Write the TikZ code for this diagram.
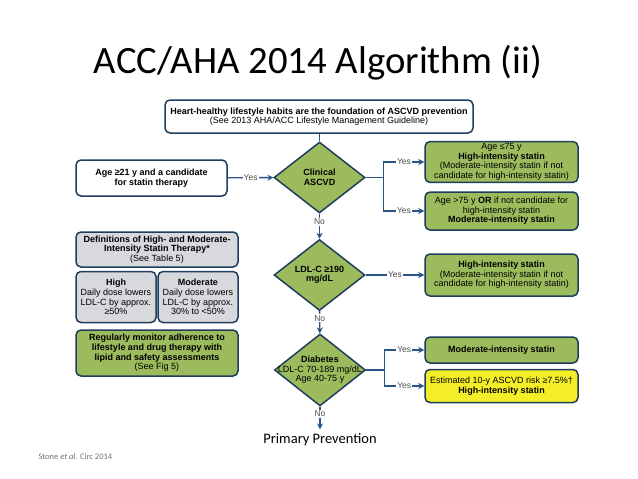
\documentclass[tikz,border=0pt]{standalone}
\usepackage{fontspec}
\setmainfont{Liberation Sans}
\newfontfamily\slidefont{Carlito}
\usetikzlibrary{shapes.geometric, arrows.meta, positioning}
\definecolor{navy}{RGB}{31,61,92}
\definecolor{flowblue}{RGB}{42,84,135}
\definecolor{leafgreen}{RGB}{155,187,92}
\definecolor{boxgray}{RGB}{216,217,221}
\definecolor{warnyellow}{RGB}{243,238,40}
\tikzstyle{basebox} = [rectangle, rounded corners=5pt, draw=navy, line width=1.5pt, align=center, font=\fontsize{9}{9.6}\selectfont, inner sep=2pt]
\tikzstyle{whitebox} = [basebox, fill=white]
\tikzstyle{statin} = [basebox, fill=leafgreen, minimum width=153]
\tikzstyle{riskbox} = [basebox, fill=warnyellow, minimum width=153]
\tikzstyle{defbox} = [basebox, fill=boxgray]
\tikzstyle{decision} = [diamond, aspect=1.28, draw=navy, line width=1.5pt, fill=leafgreen, align=center, font=\fontsize{9}{9.6}\selectfont, inner xsep=-12pt, inner ysep=-6pt, minimum width=91, minimum height=71]
\tikzstyle{arrow} = [draw=flowblue, line width=1.4pt, -{Stealth[length=6pt,width=6pt]}]
\tikzstyle{connector} = [draw=flowblue, line width=1.4pt]
\tikzstyle{flowlabel} = [fill=white, inner sep=1pt, font=\fontsize{8.5}{9}\selectfont, text=black!70]

\begin{document}
\begin{tikzpicture}[x=1pt, y=-1pt]
\useasboundingbox (0,0) rectangle (638,479);

% --- Slide text ---
\node (title) [anchor=base] at (318,73) {\slidefont\fontsize{38.7}{42}\selectfont ACC/AHA 2014 Algorithm (ii)};
\node (primary) [anchor=base] at (320,443) {\slidefont\fontsize{14.5}{16}\selectfont Primary Prevention};
\node (source) [anchor=base west, text=black!55] at (35,459) {\slidefont\fontsize{8.5}{10}\selectfont Stone \textit{et al.} Circ 2014};

% --- Lifestyle and entry ---
\node (lifestyle) [whitebox, minimum width=308, minimum height=33] at (319,116.5) {\textbf{Heart-healthy lifestyle habits are the foundation of ASCVD prevention}\\(See 2013 AHA/ACC Lifestyle Management Guideline)};
\node (candidate) [whitebox, minimum width=151, minimum height=36] at (151.5,178) {\textbf{Age ≥21 y and a candidate}\\\textbf{for statin therapy}};

% --- Decisions ---
\node (clinical) [decision] at (319.5,177.5) {\textbf{Clinical}\\\textbf{ASCVD}};
\node (ldl) [decision] at (319.5,275) {\textbf{LDL-C ≥190}\\\textbf{mg/dL}};
\node (diabetes) [decision, minimum height=72] at (320,370) {\textbf{Diabetes}\\LDL-C 70-189 mg/dL\\Age 40-75 y};

% --- Statin recommendations ---
\node (young) [statin, minimum height=40] at (501.5,162) {Age ≤75 y\\\textbf{High-intensity statin}\\(Moderate-intensity statin if not\\candidate for high-intensity statin)};
\node (old) [statin, minimum height=38] at (501.5,211) {Age >75 y \textbf{OR} if not candidate for\\high-intensity statin\\\textbf{Moderate-intensity statin}};
\node (highldl) [statin, minimum height=42] at (501.5,275) {\textbf{High-intensity statin}\\(Moderate-intensity statin if not\\candidate for high-intensity statin)};
\node (moddm) [statin, minimum height=26] at (501.5,350) {\textbf{Moderate-intensity statin}};
\node (highdm) [riskbox, minimum height=33] at (501.5,386) {Estimated 10-y ASCVD risk ≥7.5\%†\\\textbf{High-intensity statin}};

% --- Definitions panel ---
\node (defs) [defbox, minimum width=162, minimum height=35] at (157,249.5) {\textbf{Definitions of High- and Moderate-}\\\textbf{Intensity Statin Therapy*}\\(See Table 5)};
\node (high) [defbox, minimum width=80, minimum height=51, below right=3pt and 0pt of defs.south west] {\textbf{High}\\Daily dose lowers\\LDL-C by approx.\\≥50\%};
\node (moderate) [defbox, minimum width=80, minimum height=51, below left=3pt and 0pt of defs.south east] {\textbf{Moderate}\\Daily dose lowers\\LDL-C by approx.\\30\% to <50\%};
\node (monitor) [statin, minimum width=162, minimum height=46, below=6pt of high.south west, anchor=north west] {\textbf{Regularly monitor adherence to}\\\textbf{lifestyle and drug therapy with}\\\textbf{lipid and safety assessments}\\(See Fig 5)};

% --- Connections ---
\draw [connector] (lifestyle.south -| clinical) -- (clinical.north);
\draw [arrow] (candidate) -- node[flowlabel] {Yes} (clinical);

\draw [connector] (clinical.east) -- ++(18,0) coordinate (splitA);
\draw [arrow] (splitA) |- node[flowlabel, pos=0.75] {Yes} (young.west);
\draw [arrow] (splitA) |- node[flowlabel, pos=0.75] {Yes} (old.west);

\draw [arrow] (clinical) -- node[flowlabel, pos=0.33] {No} (ldl);
\draw [arrow] (ldl) -- node[flowlabel] {Yes} (highldl);
\draw [arrow] (ldl) -- node[flowlabel, pos=0.32] {No} (diabetes);

\draw [connector] (diabetes.east) -- ++(18,0) coordinate (splitB);
\draw [arrow] (splitB) |- node[flowlabel, pos=0.75] {Yes} (moddm.west);
\draw [arrow] (splitB) |- node[flowlabel, pos=0.75] {Yes} (highdm.west);

\draw [arrow] (diabetes) -- node[flowlabel, pos=0.3] {No} (primary);

\end{tikzpicture}
\end{document}
